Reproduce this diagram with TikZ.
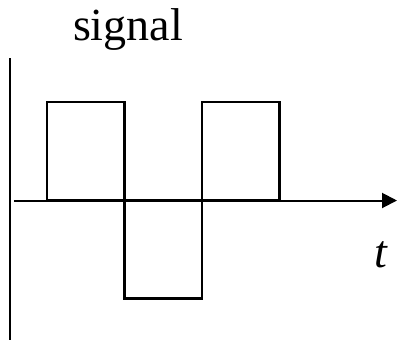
\documentclass[tikz,border=0pt]{standalone}
\usepackage{fontspec}
\setmainfont{Liberation Serif}
\usetikzlibrary{arrows.meta}
\begin{document}
\begin{tikzpicture}[x=1pt,y=-1pt,
  axis/.style={line width=2pt},
  wave/.style={line width=2.4pt, line join=miter},
  lbl/.style={font=\fontsize{46}{48}\selectfont, inner sep=0pt}]
\useasboundingbox (0,0) rectangle (397,360);
\coordinate (vtop) at (10,58);
\coordinate (vbot) at (10,340);
\coordinate (hstart) at (14,200.5);
\coordinate (hend) at (397,200.5);
\draw[axis] (vtop) -- (vbot);
\draw[axis,-{Triangle[length=15pt,width=15pt]}] (hstart) -- (hend);
\coordinate (w0) at (47,200.5);
\draw[wave] (w0) -- (47,102) -- (124.5,102) -- (124.5,298.5) -- (202,298.5) -- (202,102) -- (279.5,102) -- (279.5,200.5) -- cycle;
\node[lbl, anchor=base] (sig) at (128,40) {signal};
\node[lbl, anchor=base] (t) at (381,267) {\itshape t};
\end{tikzpicture}
\end{document}
